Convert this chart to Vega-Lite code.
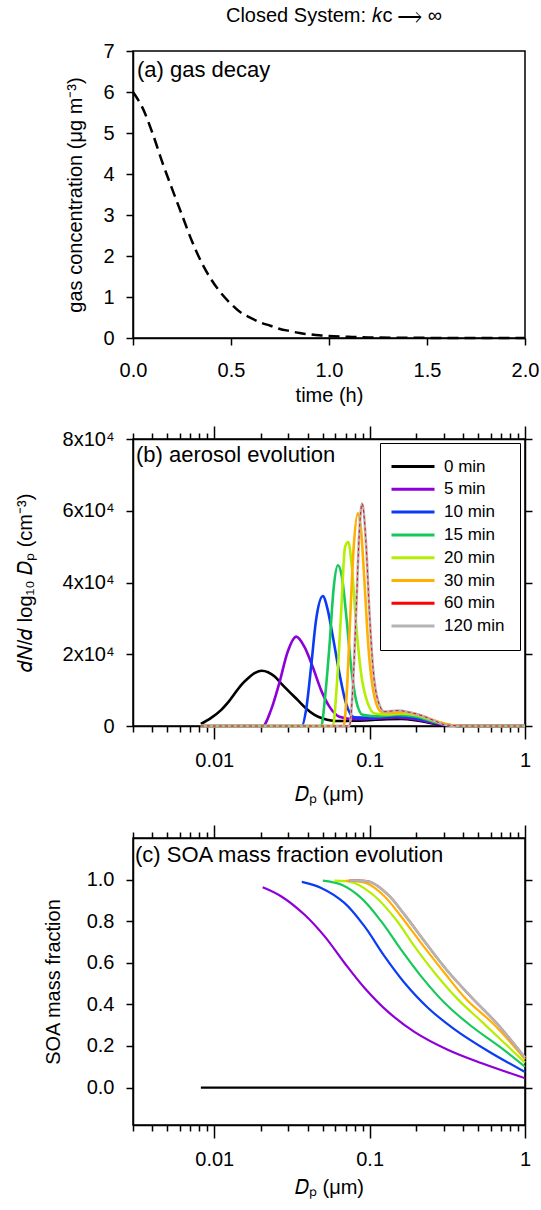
{
  "$schema": "https://vega.github.io/schema/vega-lite/v6.json",
  "background": "white",
  "padding": {"left": 14, "top": 6, "right": 10, "bottom": 2},
  "title": {"text": "Closed System: 𝑘c ⟶ ∞", "fontSize": 20, "font": "Liberation Sans", "fontWeight": "normal", "color": "black", "anchor": "middle", "offset": 14, "dx": 57},
  "spacing": 18,
  "resolve": {"scale": {"color": "independent"}, "legend": {"color": "independent"}},
  "datasets": {
    "gas": [
      {"t": 0, "c": 6.0}, {"t": 0.05, "c": 5.6}, {"t": 0.1, "c": 4.99}, {"t": 0.15, "c": 4.28},
      {"t": 0.2, "c": 3.63}, {"t": 0.25, "c": 3.0}, {"t": 0.3, "c": 2.37}, {"t": 0.35, "c": 1.84},
      {"t": 0.4, "c": 1.42}, {"t": 0.45, "c": 1.09}, {"t": 0.5, "c": 0.83}, {"t": 0.55, "c": 0.62},
      {"t": 0.6, "c": 0.49}, {"t": 0.65, "c": 0.38}, {"t": 0.7, "c": 0.3}, {"t": 0.75, "c": 0.22},
      {"t": 0.8, "c": 0.17}, {"t": 0.85, "c": 0.12}, {"t": 0.9, "c": 0.09}, {"t": 0.95, "c": 0.065},
      {"t": 1.0, "c": 0.05}, {"t": 1.1, "c": 0.03}, {"t": 1.2, "c": 0.015}, {"t": 1.4, "c": 0.005},
      {"t": 1.6, "c": 0.002}, {"t": 2.0, "c": 0}
    ],
    "dist": [
      {"time": "0 min", "Dp": 0.0082, "n": 600}, {"time": "0 min", "Dp": 0.0095, "n": 2200}, {"time": "0 min", "Dp": 0.0111, "n": 4500},
      {"time": "0 min", "Dp": 0.0125, "n": 7000}, {"time": "0 min", "Dp": 0.0149, "n": 11400}, {"time": "0 min", "Dp": 0.0165, "n": 13300},
      {"time": "0 min", "Dp": 0.0183, "n": 14800}, {"time": "0 min", "Dp": 0.0202, "n": 15400}, {"time": "0 min", "Dp": 0.0222, "n": 15000},
      {"time": "0 min", "Dp": 0.0245, "n": 13800}, {"time": "0 min", "Dp": 0.0269, "n": 11900}, {"time": "0 min", "Dp": 0.03, "n": 9800},
      {"time": "0 min", "Dp": 0.0345, "n": 7200}, {"time": "0 min", "Dp": 0.039, "n": 4900}, {"time": "0 min", "Dp": 0.0442, "n": 3100},
      {"time": "0 min", "Dp": 0.05, "n": 2100}, {"time": "0 min", "Dp": 0.0565, "n": 1550}, {"time": "0 min", "Dp": 0.064, "n": 1400},
      {"time": "0 min", "Dp": 0.08, "n": 1450}, {"time": "0 min", "Dp": 0.1, "n": 1650}, {"time": "0 min", "Dp": 0.13, "n": 1900},
      {"time": "0 min", "Dp": 0.16, "n": 1950}, {"time": "0 min", "Dp": 0.2, "n": 1550}, {"time": "0 min", "Dp": 0.25, "n": 800},
      {"time": "0 min", "Dp": 0.3, "n": 250}, {"time": "0 min", "Dp": 0.35, "n": 50}, {"time": "0 min", "Dp": 0.4, "n": 0},
      {"time": "0 min", "Dp": 1.0, "n": 0},

      {"time": "5 min", "Dp": 0.0082, "n": 0}, {"time": "5 min", "Dp": 0.0205, "n": 0}, {"time": "5 min", "Dp": 0.0232, "n": 4500},
      {"time": "5 min", "Dp": 0.0262, "n": 11900}, {"time": "5 min", "Dp": 0.0297, "n": 20700}, {"time": "5 min", "Dp": 0.0337, "n": 24900},
      {"time": "5 min", "Dp": 0.038, "n": 22100}, {"time": "5 min", "Dp": 0.043, "n": 16500}, {"time": "5 min", "Dp": 0.0487, "n": 10000},
      {"time": "5 min", "Dp": 0.0551, "n": 5400}, {"time": "5 min", "Dp": 0.0639, "n": 2600}, {"time": "5 min", "Dp": 0.0797, "n": 1900},
      {"time": "5 min", "Dp": 0.1, "n": 2000}, {"time": "5 min", "Dp": 0.15, "n": 2400}, {"time": "5 min", "Dp": 0.2, "n": 1800},
      {"time": "5 min", "Dp": 0.26, "n": 800}, {"time": "5 min", "Dp": 0.32, "n": 200}, {"time": "5 min", "Dp": 0.4, "n": 0},
      {"time": "5 min", "Dp": 1.0, "n": 0},

      {"time": "10 min", "Dp": 0.0082, "n": 0}, {"time": "10 min", "Dp": 0.0366, "n": 0}, {"time": "10 min", "Dp": 0.039, "n": 4500},
      {"time": "10 min", "Dp": 0.042, "n": 16500}, {"time": "10 min", "Dp": 0.0452, "n": 29500}, {"time": "10 min", "Dp": 0.05, "n": 36200},
      {"time": "10 min", "Dp": 0.0538, "n": 32300}, {"time": "10 min", "Dp": 0.058, "n": 24900}, {"time": "10 min", "Dp": 0.0639, "n": 14700},
      {"time": "10 min", "Dp": 0.0705, "n": 6300}, {"time": "10 min", "Dp": 0.0797, "n": 2400}, {"time": "10 min", "Dp": 0.1, "n": 2300},
      {"time": "10 min", "Dp": 0.15, "n": 2700}, {"time": "10 min", "Dp": 0.2, "n": 2200}, {"time": "10 min", "Dp": 0.27, "n": 900},
      {"time": "10 min", "Dp": 0.33, "n": 200}, {"time": "10 min", "Dp": 0.4, "n": 0}, {"time": "10 min", "Dp": 1.0, "n": 0},

      {"time": "15 min", "Dp": 0.0082, "n": 0}, {"time": "15 min", "Dp": 0.0488, "n": 0}, {"time": "15 min", "Dp": 0.0517, "n": 8200},
      {"time": "15 min", "Dp": 0.0551, "n": 22100}, {"time": "15 min", "Dp": 0.0588, "n": 38800}, {"time": "15 min", "Dp": 0.0624, "n": 44800},
      {"time": "15 min", "Dp": 0.0663, "n": 41600}, {"time": "15 min", "Dp": 0.0705, "n": 31400}, {"time": "15 min", "Dp": 0.076, "n": 16500},
      {"time": "15 min", "Dp": 0.0818, "n": 7200}, {"time": "15 min", "Dp": 0.0903, "n": 3100}, {"time": "15 min", "Dp": 0.11, "n": 2700},
      {"time": "15 min", "Dp": 0.15, "n": 3100}, {"time": "15 min", "Dp": 0.2, "n": 2600}, {"time": "15 min", "Dp": 0.27, "n": 1000},
      {"time": "15 min", "Dp": 0.33, "n": 300}, {"time": "15 min", "Dp": 0.4, "n": 0}, {"time": "15 min", "Dp": 1.0, "n": 0},

      {"time": "20 min", "Dp": 0.0082, "n": 0}, {"time": "20 min", "Dp": 0.058, "n": 0}, {"time": "20 min", "Dp": 0.0618, "n": 12800},
      {"time": "20 min", "Dp": 0.0655, "n": 31400}, {"time": "20 min", "Dp": 0.0695, "n": 49900}, {"time": "20 min", "Dp": 0.0729, "n": 51300},
      {"time": "20 min", "Dp": 0.0768, "n": 44400}, {"time": "20 min", "Dp": 0.0818, "n": 28600}, {"time": "20 min", "Dp": 0.0881, "n": 14700},
      {"time": "20 min", "Dp": 0.0973, "n": 6300}, {"time": "20 min", "Dp": 0.108, "n": 3500}, {"time": "20 min", "Dp": 0.13, "n": 3200},
      {"time": "20 min", "Dp": 0.16, "n": 3500}, {"time": "20 min", "Dp": 0.2, "n": 3000}, {"time": "20 min", "Dp": 0.27, "n": 1200},
      {"time": "20 min", "Dp": 0.33, "n": 300}, {"time": "20 min", "Dp": 0.4, "n": 0}, {"time": "20 min", "Dp": 1.0, "n": 0},

      {"time": "30 min", "Dp": 0.0082, "n": 0}, {"time": "30 min", "Dp": 0.068, "n": 0}, {"time": "30 min", "Dp": 0.0716, "n": 10900},
      {"time": "30 min", "Dp": 0.0752, "n": 31400}, {"time": "30 min", "Dp": 0.079, "n": 49900}, {"time": "30 min", "Dp": 0.084, "n": 59300},
      {"time": "30 min", "Dp": 0.0881, "n": 54600}, {"time": "30 min", "Dp": 0.0925, "n": 40700}, {"time": "30 min", "Dp": 0.0982, "n": 22100},
      {"time": "30 min", "Dp": 0.1063, "n": 9100}, {"time": "30 min", "Dp": 0.1185, "n": 4000}, {"time": "30 min", "Dp": 0.14, "n": 3700},
      {"time": "30 min", "Dp": 0.165, "n": 3900}, {"time": "30 min", "Dp": 0.2, "n": 3300}, {"time": "30 min", "Dp": 0.27, "n": 1300},
      {"time": "30 min", "Dp": 0.33, "n": 300}, {"time": "30 min", "Dp": 0.4, "n": 0}, {"time": "30 min", "Dp": 1.0, "n": 0},

      {"time": "120 min", "Dp": 0.0082, "n": 0}, {"time": "120 min", "Dp": 0.0741, "n": 0}, {"time": "120 min", "Dp": 0.078, "n": 10900},
      {"time": "120 min", "Dp": 0.0818, "n": 31400}, {"time": "120 min", "Dp": 0.086, "n": 54600}, {"time": "120 min", "Dp": 0.0895, "n": 62000},
      {"time": "120 min", "Dp": 0.0951, "n": 49900}, {"time": "120 min", "Dp": 0.0998, "n": 31400}, {"time": "120 min", "Dp": 0.105, "n": 16500},
      {"time": "120 min", "Dp": 0.113, "n": 7200}, {"time": "120 min", "Dp": 0.1246, "n": 4000}, {"time": "120 min", "Dp": 0.152, "n": 4300},
      {"time": "120 min", "Dp": 0.181, "n": 3800}, {"time": "120 min", "Dp": 0.22, "n": 2800}, {"time": "120 min", "Dp": 0.26, "n": 1500},
      {"time": "120 min", "Dp": 0.31, "n": 300}, {"time": "120 min", "Dp": 0.4, "n": 0}, {"time": "120 min", "Dp": 1.0, "n": 0},

      {"time": "60 min", "Dp": 0.0082, "n": 0}, {"time": "60 min", "Dp": 0.0741, "n": 0}, {"time": "60 min", "Dp": 0.078, "n": 10900},
      {"time": "60 min", "Dp": 0.0818, "n": 31400}, {"time": "60 min", "Dp": 0.086, "n": 54600}, {"time": "60 min", "Dp": 0.0895, "n": 62000},
      {"time": "60 min", "Dp": 0.0951, "n": 49900}, {"time": "60 min", "Dp": 0.0998, "n": 31400}, {"time": "60 min", "Dp": 0.105, "n": 16500},
      {"time": "60 min", "Dp": 0.113, "n": 7200}, {"time": "60 min", "Dp": 0.1246, "n": 4000}, {"time": "60 min", "Dp": 0.152, "n": 4300},
      {"time": "60 min", "Dp": 0.181, "n": 3800}, {"time": "60 min", "Dp": 0.22, "n": 2800}, {"time": "60 min", "Dp": 0.26, "n": 1500},
      {"time": "60 min", "Dp": 0.31, "n": 300}, {"time": "60 min", "Dp": 0.4, "n": 0}, {"time": "60 min", "Dp": 1.0, "n": 0}
    ],
    "soa": [
      {"time": "0 min", "Dp": 0.0082, "f": 0}, {"time": "0 min", "Dp": 1.0, "f": 0},
      {"time": "5 min", "Dp": 0.0205, "f": 0.963}, {"time": "5 min", "Dp": 0.0269, "f": 0.92}, {"time": "5 min", "Dp": 0.038, "f": 0.832},
      {"time": "5 min", "Dp": 0.0512, "f": 0.728}, {"time": "5 min", "Dp": 0.0688, "f": 0.6}, {"time": "5 min", "Dp": 0.0925, "f": 0.48},
      {"time": "5 min", "Dp": 0.131, "f": 0.365}, {"time": "5 min", "Dp": 0.194, "f": 0.268}, {"time": "5 min", "Dp": 0.318, "f": 0.182},
      {"time": "5 min", "Dp": 0.522, "f": 0.118}, {"time": "5 min", "Dp": 1.0, "f": 0.045},
      {"time": "10 min", "Dp": 0.0366, "f": 0.989}, {"time": "10 min", "Dp": 0.0488, "f": 0.96}, {"time": "10 min", "Dp": 0.0688, "f": 0.888},
      {"time": "10 min", "Dp": 0.0925, "f": 0.776}, {"time": "10 min", "Dp": 0.1245, "f": 0.632}, {"time": "10 min", "Dp": 0.1675, "f": 0.504},
      {"time": "10 min", "Dp": 0.237, "f": 0.384}, {"time": "10 min", "Dp": 0.352, "f": 0.28}, {"time": "10 min", "Dp": 0.577, "f": 0.176},
      {"time": "10 min", "Dp": 1.0, "f": 0.075},
      {"time": "15 min", "Dp": 0.05, "f": 0.995}, {"time": "15 min", "Dp": 0.0655, "f": 0.976}, {"time": "15 min", "Dp": 0.0881, "f": 0.912},
      {"time": "15 min", "Dp": 0.1185, "f": 0.8}, {"time": "15 min", "Dp": 0.159, "f": 0.664}, {"time": "15 min", "Dp": 0.214, "f": 0.536},
      {"time": "15 min", "Dp": 0.303, "f": 0.408}, {"time": "15 min", "Dp": 0.45, "f": 0.296}, {"time": "15 min", "Dp": 0.7, "f": 0.192},
      {"time": "15 min", "Dp": 1.0, "f": 0.1},
      {"time": "20 min", "Dp": 0.0593, "f": 0.995}, {"time": "20 min", "Dp": 0.0797, "f": 0.984}, {"time": "20 min", "Dp": 0.108, "f": 0.92},
      {"time": "20 min", "Dp": 0.1476, "f": 0.808}, {"time": "20 min", "Dp": 0.194, "f": 0.68}, {"time": "20 min", "Dp": 0.262, "f": 0.552},
      {"time": "20 min", "Dp": 0.37, "f": 0.424}, {"time": "20 min", "Dp": 0.55, "f": 0.304}, {"time": "20 min", "Dp": 1.0, "f": 0.12},
      {"time": "30 min", "Dp": 0.0705, "f": 0.995}, {"time": "30 min", "Dp": 0.0973, "f": 0.98}, {"time": "30 min", "Dp": 0.1245, "f": 0.92},
      {"time": "30 min", "Dp": 0.159, "f": 0.824}, {"time": "30 min", "Dp": 0.214, "f": 0.696}, {"time": "30 min", "Dp": 0.303, "f": 0.552},
      {"time": "30 min", "Dp": 0.42, "f": 0.424}, {"time": "30 min", "Dp": 0.63, "f": 0.304}, {"time": "30 min", "Dp": 1.0, "f": 0.136},
      {"time": "60 min", "Dp": 0.0741, "f": 0.995}, {"time": "60 min", "Dp": 0.102, "f": 0.987}, {"time": "60 min", "Dp": 0.131, "f": 0.928},
      {"time": "60 min", "Dp": 0.1675, "f": 0.832}, {"time": "60 min", "Dp": 0.225, "f": 0.704}, {"time": "60 min", "Dp": 0.318, "f": 0.56},
      {"time": "60 min", "Dp": 0.45, "f": 0.436}, {"time": "60 min", "Dp": 0.66, "f": 0.308}, {"time": "60 min", "Dp": 1.0, "f": 0.144},
      {"time": "120 min", "Dp": 0.0741, "f": 0.995}, {"time": "120 min", "Dp": 0.102, "f": 0.987}, {"time": "120 min", "Dp": 0.131, "f": 0.928},
      {"time": "120 min", "Dp": 0.1675, "f": 0.832}, {"time": "120 min", "Dp": 0.225, "f": 0.704}, {"time": "120 min", "Dp": 0.318, "f": 0.56},
      {"time": "120 min", "Dp": 0.45, "f": 0.436}, {"time": "120 min", "Dp": 0.66, "f": 0.308}, {"time": "120 min", "Dp": 1.0, "f": 0.144}
    ]
  },
  "vconcat": [
    {
      "width": 392, "height": 287,
      "title": {"text": "(a) gas decay", "anchor": "start", "frame": "group", "orient": "top", "offset": -41, "dx": 4, "fontSize": 22, "fontWeight": "normal", "font": "Liberation Sans", "color": "black"},
      "data": {"name": "gas"},
      "mark": {"type": "line", "color": "black", "strokeWidth": 2.5, "strokeDash": [11, 6], "interpolate": "monotone"},
      "encoding": {
        "x": {"field": "t", "type": "quantitative", "scale": {"domain": [0, 2], "nice": false},
              "axis": {"values": [0, 0.5, 1, 1.5, 2], "format": ".1f", "title": "time (h)", "labelPadding": 15, "titlePadding": 5}},
        "y": {"field": "c", "type": "quantitative", "scale": {"domain": [0, 7], "nice": false},
              "axis": {"values": [0, 1, 2, 3, 4, 5, 6, 7], "title": "gas concentration (μg m⁻³)", "labelPadding": 12, "titlePadding": 17}}
      }
    },
    {
      "width": 392, "height": 287,
      "title": {"text": "(b) aerosol evolution", "anchor": "start", "frame": "group", "orient": "top", "offset": -42, "dx": 3, "fontSize": 22, "fontWeight": "normal", "font": "Liberation Sans", "color": "black"},
      "data": {"name": "dist"},
      "resolve": {"axis": {"x": "independent", "y": "independent"}},
      "layer": [
        {
          "transform": [{"filter": "datum.time != '60 min'"}],
          "mark": {"type": "line", "strokeWidth": 2.6, "interpolate": "monotone"},
          "encoding": {
            "x": {"field": "Dp", "type": "quantitative", "scale": {"type": "log", "domain": [0.003, 1], "nice": false},
                  "axis": {"values": [0.003, 0.004, 0.005, 0.006, 0.007, 0.008, 0.009, 0.01, 0.02, 0.03, 0.04, 0.05, 0.06, 0.07, 0.08, 0.09, 0.1, 0.2, 0.3, 0.4, 0.5, 0.6, 0.7, 0.8, 0.9, 1],
                           "labelExpr": "datum.value == 0.01 ? '0.01' : datum.value == 0.1 ? '0.1' : datum.value == 1 ? '1' : ''",
                           "tickSize": {"condition": {"test": "datum.value == 0.01 || datum.value == 0.1 || datum.value == 1", "value": 13}, "value": 6},
                           "labelPadding": 11, "title": "𝐷ₚ (μm)", "titlePadding": 14}},
            "y": {"field": "n", "type": "quantitative", "scale": {"domain": [0, 80000], "nice": false},
                  "axis": {"values": [0, 20000, 40000, 60000, 80000], "labelExpr": "datum.value == 0 ? '0' : (datum.value / 10000) + 'x10⁴'", "title": "𝑑𝑁/𝑑 log₁₀ 𝐷ₚ (cm⁻³)", "labelPadding": 12, "titlePadding": 27}},
            "color": {"field": "time", "type": "nominal",
                      "scale": {"domain": ["0 min", "5 min", "10 min", "15 min", "20 min", "30 min", "60 min", "120 min"],
                                "range": ["#000000", "#8E00D8", "#0A3CF5", "#16C95A", "#B4EE00", "#FFB000", "#FF0000", "#B4B4B4"]},
                      "legend": {"orient": "none", "legendX": 247, "legendY": 4, "title": null}}
          }
        },
        {
          "transform": [{"filter": "datum.time == '60 min'"}],
          "mark": {"type": "line", "strokeWidth": 1, "strokeDash": [3, 3], "interpolate": "monotone"},
          "encoding": {
            "x": {"field": "Dp", "type": "quantitative",
                  "axis": {"orient": "top", "values": [0.003, 0.004, 0.005, 0.006, 0.007, 0.008, 0.009, 0.01, 0.02, 0.03, 0.04, 0.05, 0.06, 0.07, 0.08, 0.09, 0.1, 0.2, 0.3, 0.4, 0.5, 0.6, 0.7, 0.8, 0.9, 1],
                           "labels": false, "title": null,
                           "tickSize": {"condition": {"test": "datum.value == 0.01 || datum.value == 0.1 || datum.value == 1", "value": 13}, "value": 6}}},
            "y": {"field": "n", "type": "quantitative",
                  "axis": {"orient": "right", "values": [0, 20000, 40000, 60000, 80000], "labels": false, "title": null}},
            "color": {"field": "time", "type": "nominal",
                      "legend": {"orient": "none", "legendX": 247, "legendY": 4, "title": null}}
          }
        }
      ]
    },
    {
      "width": 392, "height": 287,
      "title": {"text": "(c) SOA mass fraction evolution", "anchor": "start", "frame": "group", "orient": "top", "offset": -43, "dx": 2, "fontSize": 22, "fontWeight": "normal", "font": "Liberation Sans", "color": "black"},
      "data": {"name": "soa"},
      "resolve": {"axis": {"x": "independent", "y": "independent"}},
      "layer": [
        {
          "transform": [{"filter": "datum.time != '120 min'"}],
          "mark": {"type": "line", "strokeWidth": 2.2, "interpolate": "catmull-rom"},
          "encoding": {
            "x": {"field": "Dp", "type": "quantitative", "scale": {"type": "log", "domain": [0.003, 1], "nice": false},
                  "axis": {"values": [0.003, 0.004, 0.005, 0.006, 0.007, 0.008, 0.009, 0.01, 0.02, 0.03, 0.04, 0.05, 0.06, 0.07, 0.08, 0.09, 0.1, 0.2, 0.3, 0.4, 0.5, 0.6, 0.7, 0.8, 0.9, 1],
                           "labelExpr": "datum.value == 0.01 ? '0.01' : datum.value == 0.1 ? '0.1' : datum.value == 1 ? '1' : ''",
                           "tickSize": {"condition": {"test": "datum.value == 0.01 || datum.value == 0.1 || datum.value == 1", "value": 13}, "value": 6},
                           "labelPadding": 11, "title": "𝐷ₚ (μm)", "titlePadding": 8}},
            "y": {"field": "f", "type": "quantitative", "scale": {"domain": [-0.18, 1.2], "nice": false},
                  "axis": {"values": [0, 0.2, 0.4, 0.6, 0.8, 1.0], "format": ".1f", "title": "SOA mass fraction", "labelPadding": 12, "titlePadding": 23}},
            "color": {"field": "time", "type": "nominal",
                      "scale": {"domain": ["0 min", "5 min", "10 min", "15 min", "20 min", "30 min", "60 min", "120 min"],
                                "range": ["#000000", "#8E00D8", "#0A3CF5", "#16C95A", "#B4EE00", "#FFB000", "#FF0000", "#B4B4B4"]},
                      "legend": null}
          }
        },
        {
          "transform": [{"filter": "datum.time == '120 min'"}],
          "mark": {"type": "line", "strokeWidth": 2.6, "interpolate": "catmull-rom"},
          "encoding": {
            "x": {"field": "Dp", "type": "quantitative",
                  "axis": {"orient": "top", "values": [0.003, 0.004, 0.005, 0.006, 0.007, 0.008, 0.009, 0.01, 0.02, 0.03, 0.04, 0.05, 0.06, 0.07, 0.08, 0.09, 0.1, 0.2, 0.3, 0.4, 0.5, 0.6, 0.7, 0.8, 0.9, 1],
                           "labels": false, "title": null,
                           "tickSize": {"condition": {"test": "datum.value == 0.01 || datum.value == 0.1 || datum.value == 1", "value": 13}, "value": 6}}},
            "y": {"field": "f", "type": "quantitative",
                  "axis": {"orient": "right", "values": [0, 0.2, 0.4, 0.6, 0.8, 1.0], "labels": false, "title": null}},
            "color": {"field": "time", "type": "nominal", "legend": null}
          }
        }
      ]
    }
  ],
  "config": {
    "font": "Liberation Sans",
    "view": {"stroke": "black", "strokeWidth": 1.5},
    "axis": {"labelFont": "Liberation Sans", "labelFontSize": 20, "labelColor": "black", "titleFont": "Liberation Sans", "titleFontSize": 20, "titleFontWeight": "normal", "titleColor": "black",
             "domainColor": "black", "domainWidth": 1.5, "tickColor": "black", "tickWidth": 1.5, "tickSize": 7, "grid": false, "labelPadding": 10, "labelFlush": false, "labelOverlap": false},
    "legend": {"strokeColor": "black", "fillColor": "white", "padding": 15, "symbolType": "M-2.4,0H6.2", "symbolSize": 100, "symbolStrokeWidth": 3,
               "labelFont": "Liberation Sans", "labelFontSize": 17, "labelColor": "black", "labelOffset": 32, "rowPadding": 4.8}
  }
}
